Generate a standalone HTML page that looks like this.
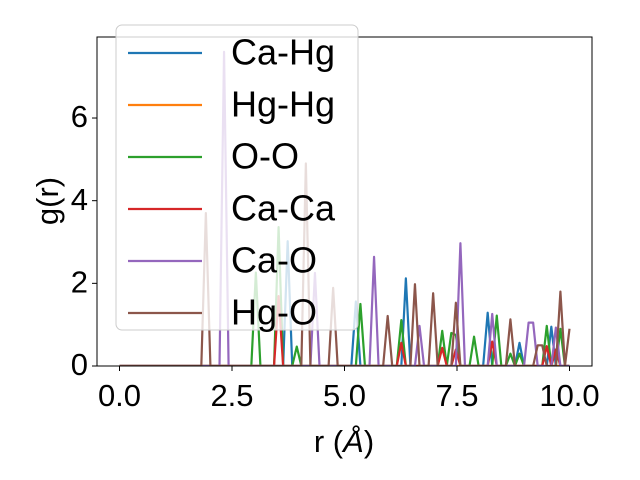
<!DOCTYPE html>
<html><head><meta charset="utf-8"><style>
body{margin:0;background:#fff}
svg{display:block;font-family:"Liberation Sans","DejaVu Sans",sans-serif}
</style></head><body>
<svg id="chart" width="640" height="480">
<rect width="640" height="480" fill="#fff"/>
<g id="plot"></g>
</svg>
<script>
const N = 100;
const xMin = 0, xMax = 10;
const xTicks = [0, 2.5, 5, 7.5, 10];
const xTickLabels = ["0.0", "2.5", "5.0", "7.5", "10.0"];
const yTicks = [0, 2, 4, 6];
const yTickLabels = ["0", "2", "4", "6"];
const seriesNames = ["Ca-Hg", "Hg-Hg", "O-O", "Ca-Ca", "Ca-O", "Hg-O"];
const seriesColors = ["#1f77b4", "#ff7f0e", "#2ca02c", "#d62728", "#9467bd", "#8c564b"];
// sparse peak data: [index, g]; all other points are 0
const caHg = [[37,3.02],[52,1.56],[63,2.12],[81,1.29],[88,0.56],[95,0.95]];
const hgHg = [];
const oO = [[30,2.26],[35,3.36],[39,0.47],[53,1.5],[62,1.11],[71,0.85],[73,0.8],[74,0.75],[78,0.71],[83,1.22],[86,0.3],[88,0.3],[94,0.97],[97,0.9]];
const caCa = [[35,1.69],[62,0.56],[71,0.44],[74,0.4],[82,0.59],[94,0.48],[96,0.4]];
const caO = [[23,7.6],[43,2.25],[56,2.64],[66,0.97],[75,2.97],[82,1.26],[90,1.05],[91,1.05],[96,0.93]];
const hgO = [[19,3.7],[41,4.9],[47,1.89],[59,1.21],[65,1.98],[69,1.76],[74,1.53],[86,1.13],[92,0.5],[93,0.5],[97,1.8],[99,0.9]];
const allSeries = [caHg, hgHg, oO, caCa, caO, hgO];

const L = 97, R = 592, T = 37, B = 366;
const xlo = -0.5, xhi = 10.5, ylo = -0.38, yhi = 7.98;
const sx = v => L + (v - xlo) / (xhi - xlo) * (R - L);
const sy = v => B - (v - ylo) / (yhi - ylo) * (B - T) - 0;
const yZero = v => 366 - v * 41.33;
const NS = "http://www.w3.org/2000/svg";
const plot = document.getElementById("plot");
function mk(tag, attrs, parent){const e=document.createElementNS(NS,tag);for(const k in attrs)e.setAttribute(k,attrs[k]);(parent||plot).appendChild(e);return e;}

const clip = mk("clipPath",{id:"clip"}); mk("rect",{x:L,y:T,width:R-L,height:B-T},clip);
const lines = mk("g",{"clip-path":"url(#clip)"});


allSeries.forEach((s, si) => {
  const vals = new Array(N).fill(0);
  s.forEach(([i, g]) => { vals[i] = g; });
  const pts = vals.map((g, i) => sx(xMin + i * (xMax - xMin) / (N - 1)).toFixed(2) + "," + yZero(g).toFixed(2)).join(" ");
  const pl = mk("polyline",{points:pts,fill:"none",stroke:seriesColors[si],"stroke-width":2.2,"stroke-linejoin":"round"},lines);
  
  
});

const frame = mk("rect",{x:L,y:T,width:R-L,height:B-T,fill:"none",stroke:"#000","stroke-width":1});



xTicks.forEach((t, i) => {
  mk("line",{x1:sx(t),x2:sx(t),y1:B,y2:B+5,stroke:"#000"});
  const tx = mk("text",{x:sx(t),y:398,"text-anchor":"middle","font-size":31,"dominant-baseline":"middle"});
  tx.textContent = xTickLabels[i];
  
  
});
yTicks.forEach((t, i) => {
  const y = yZero(t);
  mk("line",{x1:L-5,x2:L,y1:y,y2:y,stroke:"#000"});
  const tx = mk("text",{x:L-9,y:y+1,"text-anchor":"end","font-size":31,"dominant-baseline":"middle"});
  tx.textContent = yTickLabels[i];
  
  
});
const xl = mk("text",{x:344,y:444,"text-anchor":"middle","font-size":31,"dominant-baseline":"middle"});
xl.innerHTML = 'r (<tspan font-style="italic">Å</tspan>)';


const yl = mk("text",{x:0,y:0,"text-anchor":"middle","font-size":31,"dominant-baseline":"middle",transform:"translate(50,201) rotate(-90)"});
yl.textContent = "g(r)";



const leg = mk("g",{});


mk("rect",{x:116,y:25,width:242,height:305,rx:6,fill:"#fff","fill-opacity":0.8,stroke:"#ccc","stroke-width":1},leg);
seriesNames.forEach((n, i) => {
  const y = 53 + i * 52;
  const e = mk("g",{},leg);
  
  
  mk("line",{x1:128,x2:202,y1:y,y2:y,stroke:seriesColors[i],"stroke-width":2.2},e);
  const t = mk("text",{x:231,y:y+2,"font-size":36,"dominant-baseline":"middle"},e);
  t.textContent = n;
});
</script>
</body></html>
